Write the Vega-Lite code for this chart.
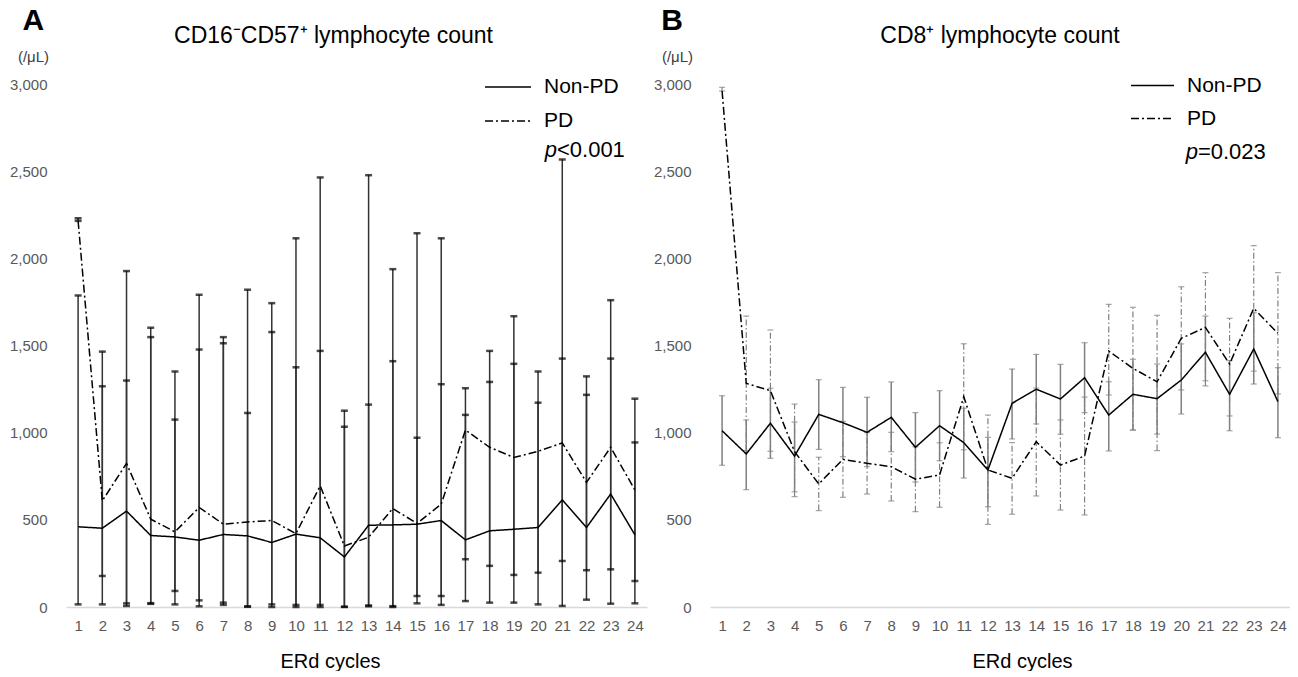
{
  "$schema": "https://vega.github.io/schema/vega-lite/v6.json",
  "background": "white",
  "padding": {"left": 9, "top": 6, "right": 0, "bottom": 0},
  "spacing": 6,
  "config": {
    "font": "Liberation Sans",
    "view": {"stroke": null},
    "axis": {"grid": false, "ticks": false, "labelFont": "Liberation Sans", "labelColor": "#595959", "labelFontSize": 15, "titleFont": "Liberation Sans", "titleFontWeight": "normal", "titleColor": "#000000"},
    "axisX": {"labelOverlap": false, "labelFlush": false, "labelPadding": 11, "domainColor": "#d9d9d9", "domainWidth": 1.5, "titleFontSize": 20, "titlePadding": 18},
    "axisY": {"domain": false, "labelPadding": 19, "labelOverlap": false, "titleFontSize": 15, "titleColor": "#404040", "titleAngle": 0, "titleAlign": "center", "titleBaseline": "middle"},
    "title": {"font": "Liberation Sans", "fontSize": 23, "fontWeight": "normal", "color": "#000000"},
    "legend": {"labelFont": "Liberation Sans", "labelFontSize": 21, "labelColor": "#000000", "symbolType": "stroke", "symbolStrokeWidth": 1.5, "symbolStrokeColor": "#000000", "rowPadding": 0, "labelOffset": 12, "padding": 0, "title": null}
  },
  "resolve": {"scale": {"x": "independent", "y": "independent", "strokeDash": "independent"}, "legend": {"strokeDash": "independent"}},
  "datasets": {
    "A": [
      {"group": "Non-PD", "cycle": 1, "mean": 460, "lo": 15, "hi": 1787},
      {"group": "Non-PD", "cycle": 2, "mean": 452, "lo": 15, "hi": 1465},
      {"group": "Non-PD", "cycle": 3, "mean": 550, "lo": 6, "hi": 1927},
      {"group": "Non-PD", "cycle": 4, "mean": 410, "lo": 18, "hi": 1602},
      {"group": "Non-PD", "cycle": 5, "mean": 402, "lo": 15, "hi": 1351},
      {"group": "Non-PD", "cycle": 6, "mean": 383, "lo": 4, "hi": 1791},
      {"group": "Non-PD", "cycle": 7, "mean": 416, "lo": 12, "hi": 1548},
      {"group": "Non-PD", "cycle": 8, "mean": 408, "lo": 1, "hi": 1820},
      {"group": "Non-PD", "cycle": 9, "mean": 370, "lo": 0, "hi": 1743},
      {"group": "Non-PD", "cycle": 10, "mean": 418, "lo": 0, "hi": 2115},
      {"group": "Non-PD", "cycle": 11, "mean": 397, "lo": 0, "hi": 2464},
      {"group": "Non-PD", "cycle": 12, "mean": 287, "lo": 0, "hi": 1126},
      {"group": "Non-PD", "cycle": 13, "mean": 469, "lo": 4, "hi": 2477},
      {"group": "Non-PD", "cycle": 14, "mean": 471, "lo": 0, "hi": 1938},
      {"group": "Non-PD", "cycle": 15, "mean": 475, "lo": 21, "hi": 2144},
      {"group": "Non-PD", "cycle": 16, "mean": 496, "lo": 12, "hi": 2115},
      {"group": "Non-PD", "cycle": 17, "mean": 385, "lo": 34, "hi": 1255},
      {"group": "Non-PD", "cycle": 18, "mean": 437, "lo": 25, "hi": 1469},
      {"group": "Non-PD", "cycle": 19, "mean": 446, "lo": 25, "hi": 1668},
      {"group": "Non-PD", "cycle": 20, "mean": 456, "lo": 15, "hi": 1351},
      {"group": "Non-PD", "cycle": 21, "mean": 615, "lo": 6, "hi": 2567},
      {"group": "Non-PD", "cycle": 22, "mean": 456, "lo": 42, "hi": 1323},
      {"group": "Non-PD", "cycle": 23, "mean": 648, "lo": 19, "hi": 1760},
      {"group": "Non-PD", "cycle": 24, "mean": 414, "lo": 21, "hi": 1195},
      {"group": "PD", "cycle": 1, "mean": 2215, "lo": 2215, "hi": 2230},
      {"group": "PD", "cycle": 2, "mean": 609, "lo": 178, "hi": 1266},
      {"group": "PD", "cycle": 3, "mean": 824, "lo": 21, "hi": 1299},
      {"group": "PD", "cycle": 4, "mean": 504, "lo": 22, "hi": 1548},
      {"group": "PD", "cycle": 5, "mean": 431, "lo": 92, "hi": 1075},
      {"group": "PD", "cycle": 6, "mean": 571, "lo": 38, "hi": 1477},
      {"group": "PD", "cycle": 7, "mean": 475, "lo": 25, "hi": 1513},
      {"group": "PD", "cycle": 8, "mean": 488, "lo": 4, "hi": 1113},
      {"group": "PD", "cycle": 9, "mean": 496, "lo": 15, "hi": 1577},
      {"group": "PD", "cycle": 10, "mean": 421, "lo": 12, "hi": 1375},
      {"group": "PD", "cycle": 11, "mean": 695, "lo": 12, "hi": 1469},
      {"group": "PD", "cycle": 12, "mean": 350, "lo": 2, "hi": 1034},
      {"group": "PD", "cycle": 13, "mean": 400, "lo": 9, "hi": 1161},
      {"group": "PD", "cycle": 14, "mean": 565, "lo": 5, "hi": 1410},
      {"group": "PD", "cycle": 15, "mean": 479, "lo": 63, "hi": 971},
      {"group": "PD", "cycle": 16, "mean": 590, "lo": 63, "hi": 1278},
      {"group": "PD", "cycle": 17, "mean": 1015, "lo": 274, "hi": 1102},
      {"group": "PD", "cycle": 18, "mean": 916, "lo": 236, "hi": 1291},
      {"group": "PD", "cycle": 19, "mean": 858, "lo": 184, "hi": 1395},
      {"group": "PD", "cycle": 20, "mean": 893, "lo": 197, "hi": 1172},
      {"group": "PD", "cycle": 21, "mean": 941, "lo": 264, "hi": 1425},
      {"group": "PD", "cycle": 22, "mean": 715, "lo": 211, "hi": 1217},
      {"group": "PD", "cycle": 23, "mean": 916, "lo": 216, "hi": 1425},
      {"group": "PD", "cycle": 24, "mean": 671, "lo": 149, "hi": 944}
    ],
    "B": [
      {"group": "Non-PD", "cycle": 1, "mean": 1011, "lo": 813, "hi": 1212},
      {"group": "Non-PD", "cycle": 2, "mean": 878, "lo": 673, "hi": 1073},
      {"group": "Non-PD", "cycle": 3, "mean": 1054, "lo": 853, "hi": 1255},
      {"group": "Non-PD", "cycle": 4, "mean": 866, "lo": 661, "hi": 1061},
      {"group": "Non-PD", "cycle": 5, "mean": 1105, "lo": 904, "hi": 1304},
      {"group": "Non-PD", "cycle": 6, "mean": 1057, "lo": 862, "hi": 1260},
      {"group": "Non-PD", "cycle": 7, "mean": 1002, "lo": 805, "hi": 1203},
      {"group": "Non-PD", "cycle": 8, "mean": 1088, "lo": 891, "hi": 1291},
      {"group": "Non-PD", "cycle": 9, "mean": 916, "lo": 717, "hi": 1115},
      {"group": "Non-PD", "cycle": 10, "mean": 1040, "lo": 839, "hi": 1241},
      {"group": "Non-PD", "cycle": 11, "mean": 943, "lo": 740, "hi": 1140},
      {"group": "Non-PD", "cycle": 12, "mean": 786, "lo": 575, "hi": 973},
      {"group": "Non-PD", "cycle": 13, "mean": 1168, "lo": 964, "hi": 1365},
      {"group": "Non-PD", "cycle": 14, "mean": 1249, "lo": 1050, "hi": 1449},
      {"group": "Non-PD", "cycle": 15, "mean": 1193, "lo": 991, "hi": 1392},
      {"group": "Non-PD", "cycle": 16, "mean": 1315, "lo": 1115, "hi": 1516},
      {"group": "Non-PD", "cycle": 17, "mean": 1101, "lo": 895, "hi": 1292},
      {"group": "Non-PD", "cycle": 18, "mean": 1220, "lo": 1015, "hi": 1421},
      {"group": "Non-PD", "cycle": 19, "mean": 1195, "lo": 992, "hi": 1394},
      {"group": "Non-PD", "cycle": 20, "mean": 1302, "lo": 1107, "hi": 1509},
      {"group": "Non-PD", "cycle": 21, "mean": 1461, "lo": 1298, "hi": 1669},
      {"group": "Non-PD", "cycle": 22, "mean": 1220, "lo": 1011, "hi": 1413},
      {"group": "Non-PD", "cycle": 23, "mean": 1480, "lo": 1279, "hi": 1688},
      {"group": "Non-PD", "cycle": 24, "mean": 1178, "lo": 971, "hi": 1373},
      {"group": "PD", "cycle": 1, "mean": 2960, "lo": 2960, "hi": 2981},
      {"group": "PD", "cycle": 2, "mean": 1283, "lo": 897, "hi": 1669},
      {"group": "PD", "cycle": 3, "mean": 1241, "lo": 893, "hi": 1589},
      {"group": "PD", "cycle": 4, "mean": 891, "lo": 633, "hi": 1164},
      {"group": "PD", "cycle": 5, "mean": 706, "lo": 553, "hi": 859},
      {"group": "PD", "cycle": 6, "mean": 847, "lo": 629, "hi": 1065},
      {"group": "PD", "cycle": 7, "mean": 824, "lo": 648, "hi": 1000},
      {"group": "PD", "cycle": 8, "mean": 805, "lo": 608, "hi": 1002},
      {"group": "PD", "cycle": 9, "mean": 733, "lo": 547, "hi": 919},
      {"group": "PD", "cycle": 10, "mean": 757, "lo": 572, "hi": 942},
      {"group": "PD", "cycle": 11, "mean": 1206, "lo": 902, "hi": 1510},
      {"group": "PD", "cycle": 12, "mean": 786, "lo": 474, "hi": 1101},
      {"group": "PD", "cycle": 13, "mean": 738, "lo": 532, "hi": 943},
      {"group": "PD", "cycle": 14, "mean": 948, "lo": 637, "hi": 1256},
      {"group": "PD", "cycle": 15, "mean": 814, "lo": 556, "hi": 1073},
      {"group": "PD", "cycle": 16, "mean": 866, "lo": 528, "hi": 1204},
      {"group": "PD", "cycle": 17, "mean": 1468, "lo": 1216, "hi": 1736},
      {"group": "PD", "cycle": 18, "mean": 1369, "lo": 1015, "hi": 1719},
      {"group": "PD", "cycle": 19, "mean": 1292, "lo": 897, "hi": 1673},
      {"group": "PD", "cycle": 20, "mean": 1541, "lo": 1245, "hi": 1837},
      {"group": "PD", "cycle": 21, "mean": 1604, "lo": 1268, "hi": 1918},
      {"group": "PD", "cycle": 22, "mean": 1394, "lo": 1096, "hi": 1656},
      {"group": "PD", "cycle": 23, "mean": 1713, "lo": 1353, "hi": 2073},
      {"group": "PD", "cycle": 24, "mean": 1570, "lo": 1222, "hi": 1918}
    ]
  },
  "hconcat": [
    {
      "width": 581,
      "height": 523,
      "title": {"text": "CD16⁻CD57⁺ lymphocyte count", "dx": -23, "offset": -60, "baseline": "alphabetic"},
      "layer": [
        {
          "data": {"name": "A"},
          "mark": {"type": "rule", "stroke": "#333333", "strokeWidth": 1.5},
          "encoding": {
            "x": {"field": "cycle", "type": "quantitative", "scale": {"domain": [0.5, 24.5], "nice": false, "zero": false},
              "axis": {"values": [1,2,3,4,5,6,7,8,9,10,11,12,13,14,15,16,17,18,19,20,21,22,23,24], "format": "d", "title": "ERd cycles", "titleX": 264, "labelOverlap": false}},
            "y": {"field": "lo", "type": "quantitative", "scale": {"domain": [0, 3000], "nice": false},
              "axis": {"values": [0, 500, 1000, 1500, 2000, 2500, 3000], "format": ",", "labelExpr": "format(datum.value, ',')", "title": "(/μL)", "titleX": -33, "titleY": -28, "labelOverlap": false}},
            "y2": {"field": "hi"}
          }
        },
        {
          "data": {"name": "A"},
          "mark": {"type": "tick", "orient": "horizontal", "size": 7, "thickness": 2.5, "color": "#000000"},
          "encoding": {
            "x": {"field": "cycle", "type": "quantitative", "axis": {"values": [1,2,3,4,5,6,7,8,9,10,11,12,13,14,15,16,17,18,19,20,21,22,23,24], "format": "d", "title": "ERd cycles", "titleX": 264, "labelOverlap": false}},
            "y": {"field": "lo", "type": "quantitative", "axis": {"values": [0, 500, 1000, 1500, 2000, 2500, 3000], "format": ",", "labelExpr": "format(datum.value, ',')", "title": "(/μL)", "titleX": -33, "titleY": -28, "labelOverlap": false}}
          }
        },
        {
          "data": {"name": "A"},
          "mark": {"type": "tick", "orient": "horizontal", "size": 7, "thickness": 2.5, "color": "#000000"},
          "encoding": {
            "x": {"field": "cycle", "type": "quantitative", "axis": {"values": [1,2,3,4,5,6,7,8,9,10,11,12,13,14,15,16,17,18,19,20,21,22,23,24], "format": "d", "title": "ERd cycles", "titleX": 264, "labelOverlap": false}},
            "y": {"field": "hi", "type": "quantitative", "axis": {"values": [0, 500, 1000, 1500, 2000, 2500, 3000], "format": ",", "labelExpr": "format(datum.value, ',')", "title": "(/μL)", "titleX": -33, "titleY": -28, "labelOverlap": false}}
          }
        },
        {
          "data": {"name": "A"},
          "mark": {"type": "line", "color": "#000000", "strokeWidth": 1.5},
          "encoding": {
            "x": {"field": "cycle", "type": "quantitative", "axis": {"values": [1,2,3,4,5,6,7,8,9,10,11,12,13,14,15,16,17,18,19,20,21,22,23,24], "format": "d", "title": "ERd cycles", "titleX": 264, "labelOverlap": false}},
            "y": {"field": "mean", "type": "quantitative", "axis": {"values": [0, 500, 1000, 1500, 2000, 2500, 3000], "format": ",", "labelExpr": "format(datum.value, ',')", "title": "(/μL)", "titleX": -33, "titleY": -28, "labelOverlap": false}},
            "strokeDash": {"field": "group", "type": "nominal", "scale": {"domain": ["Non-PD", "PD"], "range": [[1, 0], [8, 3, 2, 3]]},
              "legend": {"orient": "none", "legendX": 418, "legendY": -21, "symbolSize": 2116}}
          }
        },
        {
          "data": {"values": [{}]},
          "mark": {"type": "text", "text": "A", "fontSize": 30, "fontWeight": "bold", "align": "center", "baseline": "middle", "color": "#000000"},
          "encoding": {
            "x": {"datum": -0.85, "axis": {"values": [1,2,3,4,5,6,7,8,9,10,11,12,13,14,15,16,17,18,19,20,21,22,23,24], "format": "d", "title": "ERd cycles", "titleX": 264, "labelOverlap": false}},
            "y": {"datum": 3361, "axis": {"values": [0, 500, 1000, 1500, 2000, 2500, 3000], "format": ",", "labelExpr": "format(datum.value, ',')", "title": "(/μL)", "titleX": -33, "titleY": -28, "labelOverlap": false}}
          }
        },
        {
          "data": {"values": [{}]},
          "mark": {"type": "text", "text": "p", "fontSize": 22, "fontStyle": "italic", "align": "right", "baseline": "alphabetic", "color": "#000000"},
          "encoding": {
            "x": {"datum": 20.78, "axis": {"values": [1,2,3,4,5,6,7,8,9,10,11,12,13,14,15,16,17,18,19,20,21,22,23,24], "format": "d", "title": "ERd cycles", "titleX": 264, "labelOverlap": false}},
            "y": {"datum": 2581, "axis": {"values": [0, 500, 1000, 1500, 2000, 2500, 3000], "format": ",", "labelExpr": "format(datum.value, ',')", "title": "(/μL)", "titleX": -33, "titleY": -28, "labelOverlap": false}}
          }
        },
        {
          "data": {"values": [{}]},
          "mark": {"type": "text", "text": "<0.001", "fontSize": 22, "align": "left", "baseline": "alphabetic", "color": "#000000"},
          "encoding": {
            "x": {"datum": 20.78, "axis": {"values": [1,2,3,4,5,6,7,8,9,10,11,12,13,14,15,16,17,18,19,20,21,22,23,24], "format": "d", "title": "ERd cycles", "titleX": 264, "labelOverlap": false}},
            "y": {"datum": 2581, "axis": {"values": [0, 500, 1000, 1500, 2000, 2500, 3000], "format": ",", "labelExpr": "format(datum.value, ',')", "title": "(/μL)", "titleX": -33, "titleY": -28, "labelOverlap": false}}
          }
        }
      ]
    },
    {
      "width": 580,
      "height": 523,
      "title": {"text": "CD8⁺ lymphocyte count", "offset": -60, "baseline": "alphabetic"},
      "layer": [
        {
          "data": {"name": "B"},
          "transform": [{"filter": "datum.group === 'Non-PD'"}],
          "mark": {"type": "rule", "stroke": "#808080", "strokeWidth": 1.5},
          "encoding": {
            "x": {"field": "cycle", "type": "quantitative", "scale": {"domain": [0.5, 24.5], "nice": false, "zero": false},
              "axis": {"values": [1,2,3,4,5,6,7,8,9,10,11,12,13,14,15,16,17,18,19,20,21,22,23,24], "format": "d", "title": "ERd cycles", "titleX": 312, "labelOverlap": false}},
            "y": {"field": "lo", "type": "quantitative", "scale": {"domain": [0, 3000], "nice": false},
              "axis": {"values": [0, 500, 1000, 1500, 2000, 2500, 3000], "format": ",", "labelExpr": "format(datum.value, ',')", "title": "(/μL)", "titleX": -33, "titleY": -28, "labelOverlap": false}},
            "y2": {"field": "hi"}
          }
        },
        {
          "data": {"name": "B"},
          "transform": [{"filter": "datum.group === 'PD'"}],
          "mark": {"type": "rule", "stroke": "#808080", "strokeWidth": 1.2, "strokeDash": [6, 2.5, 1.5, 2.5]},
          "encoding": {
            "x": {"field": "cycle", "type": "quantitative", "axis": {"values": [1,2,3,4,5,6,7,8,9,10,11,12,13,14,15,16,17,18,19,20,21,22,23,24], "format": "d", "title": "ERd cycles", "titleX": 312, "labelOverlap": false}},
            "y": {"field": "lo", "type": "quantitative", "axis": {"values": [0, 500, 1000, 1500, 2000, 2500, 3000], "format": ",", "labelExpr": "format(datum.value, ',')", "title": "(/μL)", "titleX": -33, "titleY": -28, "labelOverlap": false}},
            "y2": {"field": "hi"}
          }
        },
        {
          "data": {"name": "B"},
          "mark": {"type": "tick", "orient": "horizontal", "size": 6, "thickness": 1.2, "color": "#808080"},
          "encoding": {
            "x": {"field": "cycle", "type": "quantitative", "axis": {"values": [1,2,3,4,5,6,7,8,9,10,11,12,13,14,15,16,17,18,19,20,21,22,23,24], "format": "d", "title": "ERd cycles", "titleX": 312, "labelOverlap": false}},
            "y": {"field": "lo", "type": "quantitative", "axis": {"values": [0, 500, 1000, 1500, 2000, 2500, 3000], "format": ",", "labelExpr": "format(datum.value, ',')", "title": "(/μL)", "titleX": -33, "titleY": -28, "labelOverlap": false}}
          }
        },
        {
          "data": {"name": "B"},
          "mark": {"type": "tick", "orient": "horizontal", "size": 6, "thickness": 1.2, "color": "#808080"},
          "encoding": {
            "x": {"field": "cycle", "type": "quantitative", "axis": {"values": [1,2,3,4,5,6,7,8,9,10,11,12,13,14,15,16,17,18,19,20,21,22,23,24], "format": "d", "title": "ERd cycles", "titleX": 312, "labelOverlap": false}},
            "y": {"field": "hi", "type": "quantitative", "axis": {"values": [0, 500, 1000, 1500, 2000, 2500, 3000], "format": ",", "labelExpr": "format(datum.value, ',')", "title": "(/μL)", "titleX": -33, "titleY": -28, "labelOverlap": false}}
          }
        },
        {
          "data": {"name": "B"},
          "mark": {"type": "line", "color": "#000000", "strokeWidth": 1.5},
          "encoding": {
            "x": {"field": "cycle", "type": "quantitative", "axis": {"values": [1,2,3,4,5,6,7,8,9,10,11,12,13,14,15,16,17,18,19,20,21,22,23,24], "format": "d", "title": "ERd cycles", "titleX": 312, "labelOverlap": false}},
            "y": {"field": "mean", "type": "quantitative", "axis": {"values": [0, 500, 1000, 1500, 2000, 2500, 3000], "format": ",", "labelExpr": "format(datum.value, ',')", "title": "(/μL)", "titleX": -33, "titleY": -28, "labelOverlap": false}},
            "strokeDash": {"field": "group", "type": "nominal", "scale": {"domain": ["Non-PD", "PD"], "range": [[1, 0], [8, 3, 2, 3]]},
              "legend": {"orient": "none", "legendX": 420, "legendY": -21, "symbolSize": 1849}}
          }
        },
        {
          "data": {"values": [{}]},
          "mark": {"type": "text", "text": "B", "fontSize": 30, "fontWeight": "bold", "align": "center", "baseline": "middle", "color": "#000000"},
          "encoding": {
            "x": {"datum": -1.07, "axis": {"values": [1,2,3,4,5,6,7,8,9,10,11,12,13,14,15,16,17,18,19,20,21,22,23,24], "format": "d", "title": "ERd cycles", "titleX": 312, "labelOverlap": false}},
            "y": {"datum": 3361, "axis": {"values": [0, 500, 1000, 1500, 2000, 2500, 3000], "format": ",", "labelExpr": "format(datum.value, ',')", "title": "(/μL)", "titleX": -33, "titleY": -28, "labelOverlap": false}}
          }
        },
        {
          "data": {"values": [{}]},
          "mark": {"type": "text", "text": "p", "fontSize": 22, "fontStyle": "italic", "align": "right", "baseline": "alphabetic", "color": "#000000"},
          "encoding": {
            "x": {"datum": 20.69, "axis": {"values": [1,2,3,4,5,6,7,8,9,10,11,12,13,14,15,16,17,18,19,20,21,22,23,24], "format": "d", "title": "ERd cycles", "titleX": 312, "labelOverlap": false}},
            "y": {"datum": 2570, "axis": {"values": [0, 500, 1000, 1500, 2000, 2500, 3000], "format": ",", "labelExpr": "format(datum.value, ',')", "title": "(/μL)", "titleX": -33, "titleY": -28, "labelOverlap": false}}
          }
        },
        {
          "data": {"values": [{}]},
          "mark": {"type": "text", "text": "=0.023", "fontSize": 22, "align": "left", "baseline": "alphabetic", "color": "#000000"},
          "encoding": {
            "x": {"datum": 20.69, "axis": {"values": [1,2,3,4,5,6,7,8,9,10,11,12,13,14,15,16,17,18,19,20,21,22,23,24], "format": "d", "title": "ERd cycles", "titleX": 312, "labelOverlap": false}},
            "y": {"datum": 2570, "axis": {"values": [0, 500, 1000, 1500, 2000, 2500, 3000], "format": ",", "labelExpr": "format(datum.value, ',')", "title": "(/μL)", "titleX": -33, "titleY": -28, "labelOverlap": false}}
          }
        }
      ]
    }
  ]
}
